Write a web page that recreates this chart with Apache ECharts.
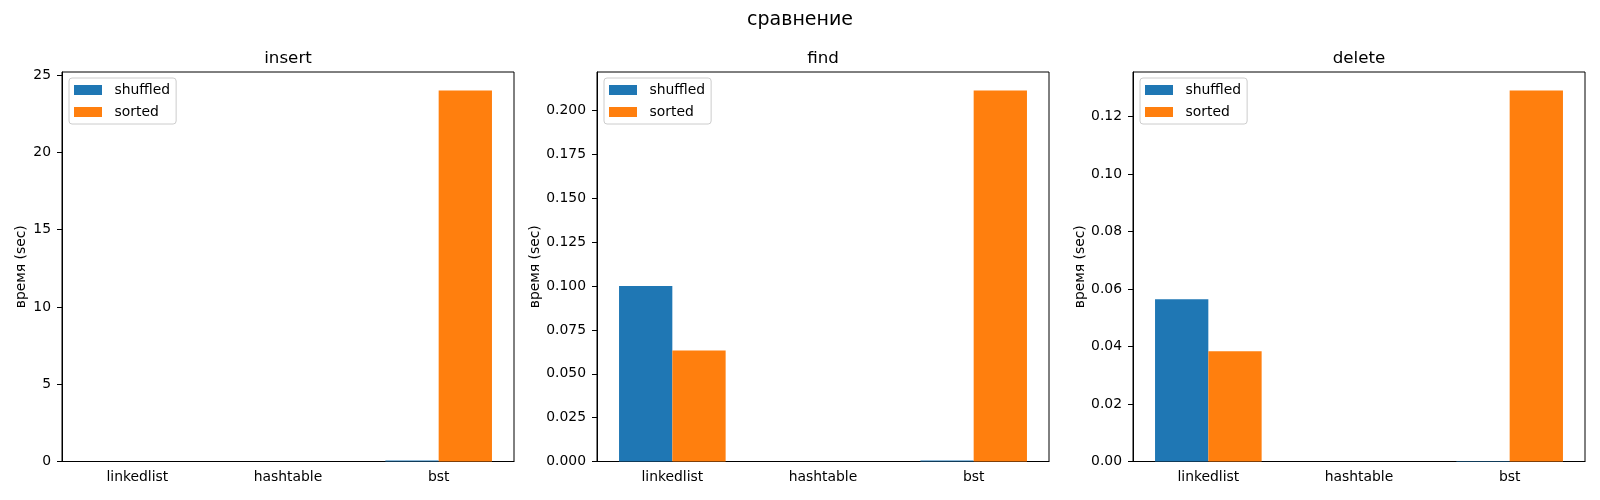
<!DOCTYPE html>
<html><head><meta charset="utf-8">
<script src="https://cdn.jsdelivr.net/npm/echarts@6/dist/echarts.min.js"></script>
<style>html,body{margin:0;padding:0;background:#fff}#c{width:1600px;height:500px}</style>
</head><body><div id="c"></div>
<script>
const categories = ['linkedlist', 'hashtable', 'bst'];
const seriesNames = ['shuffled', 'sorted'];
const panelTitles = ['insert', 'find', 'delete'];
const insertShuffled = [0.003, 0.0002, 0.06];
const insertSorted = [0.003, 0.0002, 24.0];
const findShuffled = [0.1, 0.00002, 0.0006];
const findSorted = [0.0633, 0.00002, 0.2115];
const deleteShuffled = [0.0564, 0.00001, 0.0002];
const deleteSorted = [0.0383, 0.00001, 0.129];
const insertTicks = [0, 5, 10, 15, 20, 25];
const findTicks = [0, 0.025, 0.05, 0.075, 0.1, 0.125, 0.15, 0.175, 0.2];
const deleteTicks = [0, 0.02, 0.04, 0.06, 0.08, 0.1, 0.12];

const panels = [
  {title: panelTitles[0], a: insertShuffled, b: insertSorted, ticks: insertTicks, dec: 0, left: 62, nameGap: 34},
  {title: panelTitles[1], a: findShuffled, b: findSorted, ticks: findTicks, dec: 3, left: 597, nameGap: 54},
  {title: panelTitles[2], a: deleteShuffled, b: deleteSorted, ticks: deleteTicks, dec: 2, left: 1133, nameGap: 46}
];
const FONT = 'DejaVu Sans';
const colors = ['#1f77b4', '#ff7f0e'];
const W = 452, TOP = 72, H = 389.5;

const option = {
  animation: false,
  textStyle: {fontFamily: FONT},
  title: [{text: 'сравнение', left: 800, top: 11, textAlign: 'center', padding: 0,
           textStyle: {fontFamily: FONT, fontSize: 19, fontWeight: 'normal', color: '#000'}}],
  legend: [], grid: [], xAxis: [], yAxis: [], series: []
};
panels.forEach((p, i) => {
  option.title.push({text: p.title, left: p.left + W / 2, top: 50, textAlign: 'center', padding: 0,
    textStyle: {fontFamily: FONT, fontSize: 16.7, fontWeight: 'normal', color: '#000'}});
  option.grid.push({left: p.left, top: TOP, width: W, height: H, show: true,
    borderColor: '#000', borderWidth: 1, backgroundColor: 'transparent', containLabel: false});
  option.xAxis.push({type: 'category', gridIndex: i, data: categories,
    axisLine: {lineStyle: {color: '#000', width: 1}},
    axisTick: {alignWithLabel: true, length: 5, lineStyle: {color: '#000'}},
    axisLabel: {color: '#000', fontSize: 13.9, fontFamily: FONT, margin: 9},
    splitLine: {show: false}});
  const ymax = 1.05 * Math.max(...p.a, ...p.b);
  option.yAxis.push({type: 'value', gridIndex: i, min: 0, max: ymax,
    name: 'время (sec)', nameLocation: 'middle', nameGap: p.nameGap, nameRotate: 90,
    nameTextStyle: {color: '#000', fontSize: 13.9, fontFamily: FONT},
    axisLine: {show: true, lineStyle: {color: '#000', width: 1}},
    axisTick: {show: true, length: 5, lineStyle: {color: '#000'}, customValues: p.ticks},
    axisLabel: {color: '#000', fontSize: 13.9, fontFamily: FONT, margin: 11, customValues: p.ticks,
      formatter: v => Number(v).toFixed(p.dec)},
    splitLine: {show: false}});
  option.legend.push({orient: 'vertical', left: p.left + 7, top: 78, data: seriesNames,
    itemWidth: 28, itemHeight: 10, itemGap: 8, padding: [5, 6, 5, 5],
    backgroundColor: '#fff', borderColor: '#ccc', borderWidth: 1, borderRadius: 3,
    textStyle: {color: '#000', fontSize: 13.9, fontFamily: FONT, padding: [0, 0, 0, 7.5]},
    icon: 'rect', selectedMode: false});
  [p.a, p.b].forEach((d, k) => {
    option.series.push({type: 'bar', name: seriesNames[k], xAxisIndex: i, yAxisIndex: i,
      data: d, barWidth: 53.3, barGap: '0%', itemStyle: {color: colors[k]}});
  });
});
const chart = echarts.init(document.getElementById('c'), null, {renderer: 'canvas'});
chart.setOption(option);
</script></body></html>
